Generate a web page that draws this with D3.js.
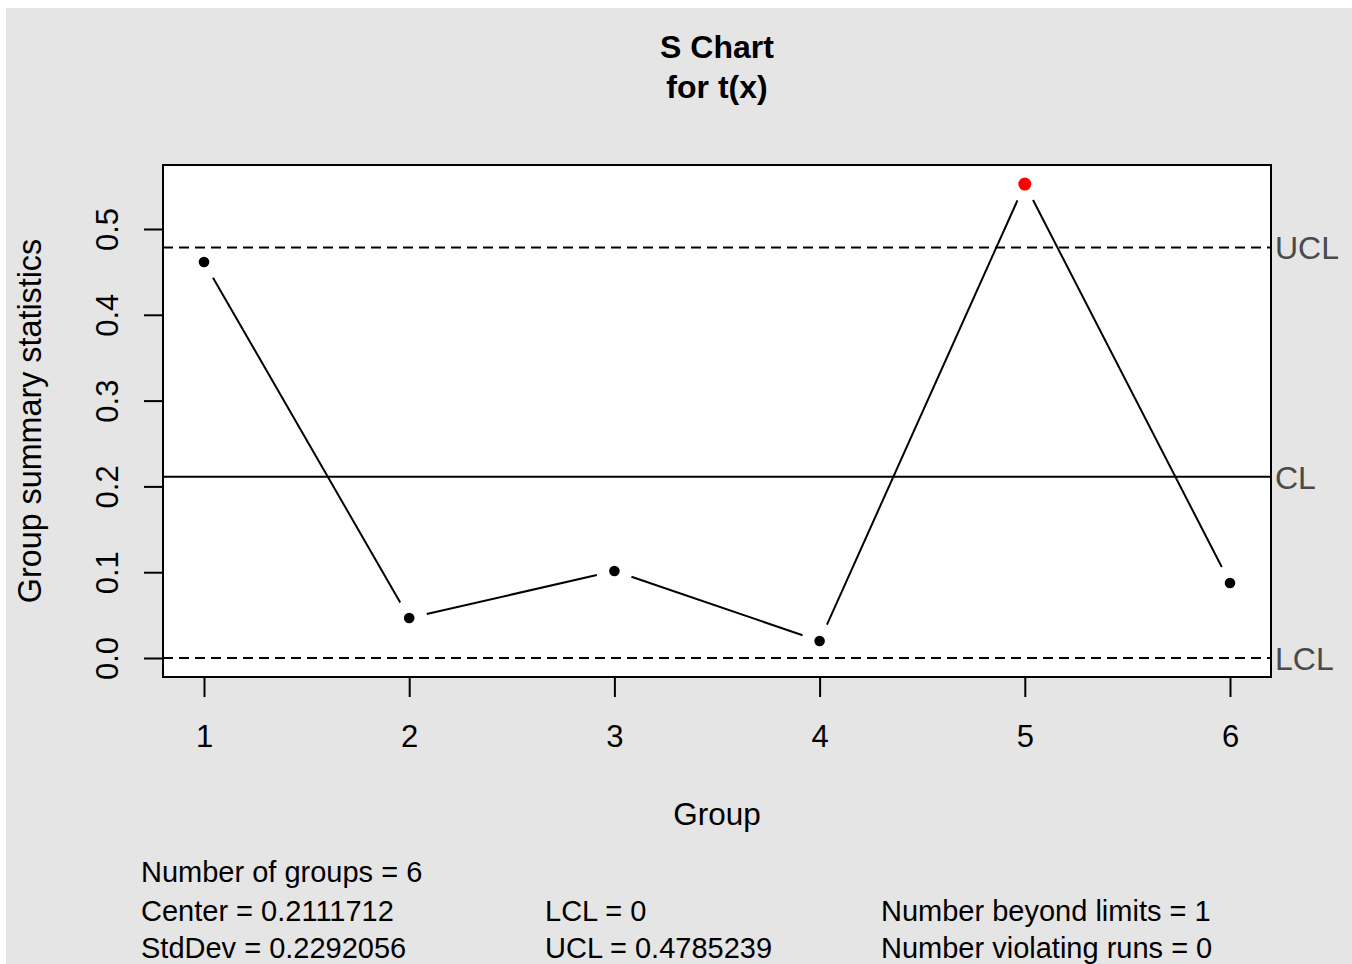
<!DOCTYPE html>
<html>
<head>
<meta charset="utf-8">
<script src="https://cdn.jsdelivr.net/npm/d3@7"></script>
<style>
  html, body { margin: 0; padding: 0; background: #ffffff; }
  svg { display: block; }
  text { font-family: "Liberation Sans", Arial, sans-serif; }
</style>
</head>
<body>
<script>
// Group standard deviations for the S chart
const groups = [1, 2, 3, 4, 5, 6];
const stdDevs = [0.4615, 0.0466, 0.1014, 0.0198, 0.5524, 0.0874];

// Control limits
const centerLine = 0.2111712;
const lcl = 0;
const ucl = 0.4785239;
const limitLabels = ["UCL", "CL", "LCL"];

// Axis ticks
const yTicks = [0.0, 0.1, 0.2, 0.3, 0.4, 0.5];
const xTicks = groups;

// Summary lines printed under the chart
const statsCol1 = ["Number of groups = 6", "Center = 0.2111712", "StdDev = 0.2292056"];
const statsCol2 = ["", "LCL = 0", "UCL = 0.4785239"];
const statsCol3 = ["", "Number beyond limits = 1", "Number violating runs = 0"];

const W = 1352, H = 964;
const box = { left: 163, top: 165, right: 1271, bottom: 677 };

const svg = d3.select("body").append("svg")
  .attr("width", W).attr("height", H);

// panel background
svg.append("rect")
  .attr("x", 6).attr("y", 8)
  .attr("width", W - 6).attr("height", H - 8)
  .attr("fill", "#e5e5e5");

svg.append("rect")
  .attr("x", box.left).attr("y", box.top)
  .attr("width", box.right - box.left).attr("height", box.bottom - box.top)
  .attr("fill", "#ffffff");

const x = d3.scaleLinear().domain([1, 6]).range([204, 1230]);
const y = d3.scaleLinear().domain([0, 0.5]).range([658, 229]);

// title
const title = svg.append("text")
  .attr("text-anchor", "middle")
  .attr("font-weight", "bold")
  .attr("font-size", 32)
  .attr("fill", "#000");
title.append("tspan").attr("x", 717).attr("y", 58).text("S Chart");
title.append("tspan").attr("x", 717).attr("y", 98).text("for t(x)");

// control limit lines
const limits = [
  { v: ucl, label: limitLabels[0], dash: "10,6" },
  { v: centerLine, label: limitLabels[1], dash: null },
  { v: lcl, label: limitLabels[2], dash: "10,6" }
];
limits.forEach(l => {
  svg.append("line")
    .attr("x1", box.left).attr("x2", box.right)
    .attr("y1", y(l.v)).attr("y2", y(l.v))
    .attr("stroke", "#000").attr("stroke-width", 2)
    .attr("stroke-dasharray", l.dash);
  svg.append("text")
    .attr("x", box.right + 4).attr("y", y(l.v) + 12)
    .attr("font-size", 32).attr("fill", "#4a4a4a")
    .text(l.label);
});

// connecting segments with gaps around each point
const gap = 18;
for (let i = 0; i < groups.length - 1; i++) {
  const x0 = x(groups[i]), y0 = y(stdDevs[i]);
  const x1 = x(groups[i + 1]), y1 = y(stdDevs[i + 1]);
  const dx = x1 - x0, dy = y1 - y0;
  const len = Math.hypot(dx, dy);
  if (len <= 2 * gap) continue;
  const ux = dx / len, uy = dy / len;
  svg.append("line")
    .attr("x1", x0 + ux * gap).attr("y1", y0 + uy * gap)
    .attr("x2", x1 - ux * gap).attr("y2", y1 - uy * gap)
    .attr("stroke", "#000").attr("stroke-width", 2);
}

// points, red when outside the control limits
svg.selectAll("circle.pt")
  .data(groups.map((g, i) => ({ g, s: stdDevs[i] })))
  .enter().append("circle")
  .attr("class", "pt")
  .attr("cx", d => x(d.g)).attr("cy", d => y(d.s))
  .attr("r", d => (d.s > ucl || d.s < lcl) ? 6.5 : 5.3)
  .attr("fill", d => (d.s > ucl || d.s < lcl) ? "#ff0000" : "#000");

// box
svg.append("rect")
  .attr("x", box.left).attr("y", box.top)
  .attr("width", box.right - box.left).attr("height", box.bottom - box.top)
  .attr("fill", "none").attr("stroke", "#000").attr("stroke-width", 2);

// x axis
const xAxis = d3.axisBottom(x).tickValues(xTicks).tickFormat(d3.format("d"))
  .tickSize(20).tickPadding(28);
const gx = svg.append("g").attr("transform", `translate(0,${box.bottom})`).call(xAxis);
gx.select(".domain").remove();
gx.selectAll(".tick line").attr("stroke", "#000").attr("stroke-width", 2);
gx.selectAll(".tick text").attr("font-size", 31).attr("fill", "#000")
  .attr("font-family", "'Liberation Sans', Arial, sans-serif");

// y axis, labels rotated parallel to the axis
const yAxis = d3.axisLeft(y).tickValues(yTicks).tickFormat(d3.format(".1f"))
  .tickSize(19).tickPadding(0);
const gy = svg.append("g").attr("transform", `translate(${box.left},0)`).call(yAxis);
gy.select(".domain").remove();
gy.selectAll(".tick line").attr("stroke", "#000").attr("stroke-width", 2);
gy.selectAll(".tick text")
  .attr("font-size", 31).attr("fill", "#000")
  .attr("font-family", "'Liberation Sans', Arial, sans-serif")
  .attr("x", null).attr("dy", null)
  .attr("text-anchor", "middle")
  .attr("transform", "translate(-45,0) rotate(-90)");

// axis titles
svg.append("text")
  .attr("x", 717).attr("y", 825)
  .attr("text-anchor", "middle").attr("font-size", 31.5).attr("fill", "#000")
  .text("Group");
svg.append("text")
  .attr("transform", "translate(41,421) rotate(-90)")
  .attr("text-anchor", "middle").attr("font-size", 32.3).attr("fill", "#000")
  .text("Group summary statistics");

// summary statistics
const statRows = [882, 921, 958];
[[statsCol1, 141], [statsCol2, 545], [statsCol3, 881]].forEach(([col, cx]) => {
  col.forEach((t, i) => {
    if (!t) return;
    svg.append("text")
      .attr("x", cx).attr("y", statRows[i])
      .attr("font-size", 29).attr("fill", "#000")
      .text(t);
  });
});
</script>
</body>
</html>
